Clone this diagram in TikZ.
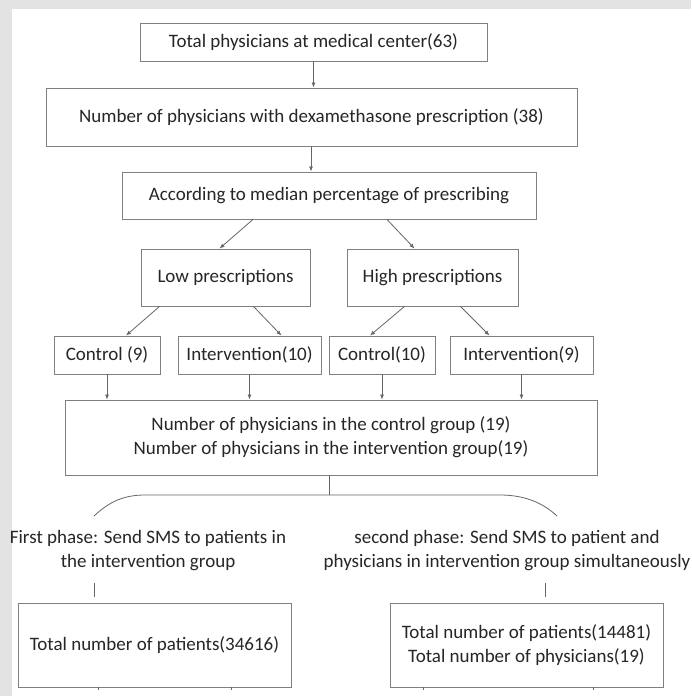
\documentclass[tikz,border=0pt]{standalone}
\usepackage{fontspec}
\setmainfont{Carlito}
\usetikzlibrary{arrows.meta}

\begin{document}
\begin{tikzpicture}[x=1pt,y=-1pt,
  box/.style={draw=black!50,line width=0.9pt,inner sep=0pt,align=center,text=black!85},
  link/.style={draw=black!60,line width=0.8pt,-{Latex[length=5pt,width=4pt]}},
  stub/.style={draw=black!60,line width=0.8pt}]
\fontsize{19}{24}\selectfont
\path[fill=black!11] (0,0) rectangle (691,696);
\path[fill=white] (12,9) rectangle (691,696);
\useasboundingbox (0,0) rectangle (691,696);
% boxes
\node[box,minimum width=347pt,minimum height=38pt] (total) at (313.5,42) {Total physicians at medical center(63)};
\node[box,minimum width=531pt,minimum height=58pt] (dexa) at (311.5,117) {Number of physicians with dexamethasone prescription (38)};
\node[box,minimum width=414pt,minimum height=47pt] (median) at (329,195.5) {According to median percentage of prescribing};
\node[box,minimum width=169pt,minimum height=57pt] (low) at (225.5,277.5) {Low prescriptions};
\node[box,minimum width=171pt,minimum height=57pt] (high) at (432.5,277.5) {High prescriptions};
\node[box,minimum width=106pt,minimum height=38pt] (lowctrl) at (107,355) {Control (9)};
\node[box,minimum width=143pt,minimum height=38pt] (lowint) at (249.5,355) {Intervention(10)};
\node[box,minimum width=106pt,minimum height=38pt] (highctrl) at (382,355) {Control(10)};
\node[box,minimum width=143pt,minimum height=38pt] (highint) at (521.5,355) {Intervention(9)};
\node[box,minimum width=532pt,minimum height=75pt] (groups) at (331,437.5) {Number of physicians in the control group (19)\\Number of physicians in the intervention group(19)};
\node[align=center,text=black!85] (phase1) at (148,551) {First phase: Send SMS to patients in\\the intervention group};
\node[align=center,text=black!85] (phase2) at (507,551) {second phase: Send SMS to patient and\\physicians in intervention group simultaneously};
\node[box,minimum width=273pt,minimum height=84pt] (pat1) at (154.5,645) {Total number of patients(34616)};
\node[box,minimum width=273pt,minimum height=84pt] (pat2) at (526.5,645) {Total number of patients(14481)\\Total number of physicians(19)};
% arrows
\path[link] (total.south) -- (total.south |- dexa.north);
\path[link] ([xshift=-0.5pt]dexa.south) -- ([xshift=-0.5pt]dexa.south |- median.north);
\path[link] ([xshift=-76pt]median.south) -- ([xshift=-6pt]low.north);
\path[link] ([xshift=58pt]median.south) -- ([xshift=-18pt]high.north);
\path[link] ([xshift=-66pt]low.south) -- ([xshift=19pt]lowctrl.north);
\path[link] ([xshift=28pt]low.south) -- ([xshift=32pt]lowint.north);
\path[link] ([xshift=-28pt]high.south) -- ([xshift=-12pt]highctrl.north);
\path[link] ([xshift=28pt]high.south) -- ([xshift=-32pt]highint.north);
\foreach \n in {lowctrl,lowint,highctrl,highint}
  \path[link] (\n.south) -- (\n.south |- groups.north);
% split into the two phases
\coordinate (fork) at (329,495);
\path[stub] ([xshift=-2pt]groups.south) -- (fork);
\path[stub] (94,516) .. controls (108,503) and (122,495) .. (145,495) -- (500,495) .. controls (525,495) and (543,503) .. (557,516);
\path[stub] (94,583) -- (94,597);
\path[stub] (545,583) -- (545,597);
\foreach \x in {98,231,423,593}
  \path[stub] (\x,687) -- (\x,690);
\end{tikzpicture}
\end{document}
